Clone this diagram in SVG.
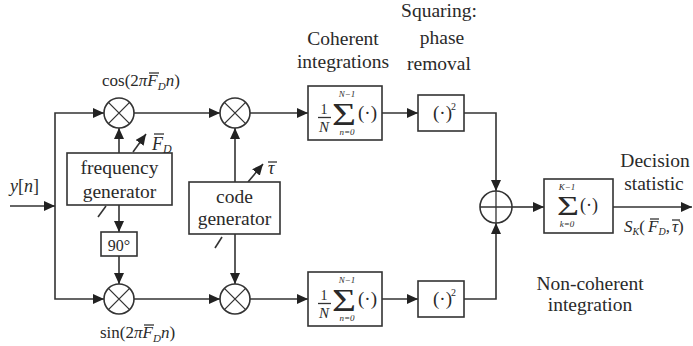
<svg xmlns="http://www.w3.org/2000/svg" width="693" height="346" viewBox="0 0 693 346" font-family="'Liberation Serif', 'DejaVu Serif', serif">
<style>
.t{font-family:"Liberation Serif","DejaVu Serif",serif;fill:#2a2a2a;font-size:19.5px}
.m{font-family:"Liberation Serif","DejaVu Serif",serif;fill:#2a2a2a}
.i{font-style:italic}
.c{text-anchor:middle}
.l{stroke:#333;stroke-width:1.6;fill:none}
.b{stroke:#333;stroke-width:1.6;fill:#fff}
.k{stroke:#333;stroke-width:1.3;fill:none}
</style>
<defs>
<marker id="a" markerUnits="userSpaceOnUse" markerWidth="11" markerHeight="10" refX="11" refY="5" orient="auto">
<path d="M0,0 L11,5 L0,10 z" fill="#222"/>
</marker>
</defs>

<g id="connectors">
<path class="l" d="M10,206 H55" marker-end="url(#a)"/>
<path class="l" d="M55,206 V113 H104" marker-end="url(#a)"/>
<path class="l" d="M55,206 V299 H104" marker-end="url(#a)"/>
<path class="l" d="M134,113 H220" marker-end="url(#a)"/>
<path class="l" d="M134,299 H220" marker-end="url(#a)"/>
<path class="l" d="M119,153 V128" marker-end="url(#a)"/>
<path class="l" d="M119,205 V232" marker-end="url(#a)"/>
<path class="l" d="M119,256 V284" marker-end="url(#a)"/>
<path class="l" d="M235,182 V128" marker-end="url(#a)"/>
<path class="l" d="M235,234 V284" marker-end="url(#a)"/>
<path class="l" d="M250,113 H308" marker-end="url(#a)"/>
<path class="l" d="M250,299 H308" marker-end="url(#a)"/>
<path class="l" d="M382,113 H418" marker-end="url(#a)"/>
<path class="l" d="M382,299 H418" marker-end="url(#a)"/>
<path class="l" d="M464,113 H496 V191" marker-end="url(#a)"/>
<path class="l" d="M464,299 H496 V223" marker-end="url(#a)"/>
<path class="l" d="M512,207 H544" marker-end="url(#a)"/>
<path class="l" d="M613,207 H692" marker-end="url(#a)"/>
<path class="l" d="M133,152 L146,134" marker-end="url(#a)"/>
<path class="l" d="M248,182 L263,164" marker-end="url(#a)"/>
<path class="l" d="M98,217 L106,206"/>
<path class="l" d="M215,248 L222,237"/>
</g>

<g id="input-label">
<text class="m" x="10" y="192" style="font-size:18px"><tspan class="i">y</tspan>[<tspan class="i">n</tspan>]</text>
</g>

<g id="mixer-cos">
<circle class="l" cx="119" cy="113" r="15"/>
<path class="k" d="M108.4,102.4 L129.6,123.6 M129.6,102.4 L108.4,123.6"/>
</g>
<g id="mixer-sin">
<circle class="l" cx="119" cy="299" r="15"/>
<path class="k" d="M108.4,288.4 L129.6,309.6 M129.6,288.4 L108.4,309.6"/>
</g>
<g id="mixer-code-i">
<circle class="l" cx="235" cy="113" r="15"/>
<path class="k" d="M224.4,102.4 L245.6,123.6 M245.6,102.4 L224.4,123.6"/>
</g>
<g id="mixer-code-q">
<circle class="l" cx="235" cy="299" r="15"/>
<path class="k" d="M224.4,288.4 L245.6,309.6 M245.6,288.4 L224.4,309.6"/>
</g>

<g id="cos-label">
<text class="m" x="102" y="86" style="font-size:17px">cos(2<tspan class="i">π</tspan><tspan class="i">F</tspan><tspan class="i" style="font-size:11px" dy="4">D</tspan><tspan class="i" dy="-4">n</tspan>)</text>
<line class="k" x1="149" y1="73" x2="159" y2="73"/>
</g>
<g id="sin-label">
<text class="m" x="100" y="338" style="font-size:17px">sin(2<tspan class="i">π</tspan><tspan class="i">F</tspan><tspan class="i" style="font-size:11px" dy="4">D</tspan><tspan class="i" dy="-4">n</tspan>)</text>
<line class="k" x1="144" y1="325" x2="154" y2="325"/>
</g>

<g id="freq-gen">
<rect class="b" x="67" y="153" width="105" height="52"/>
<text class="t c" x="119.5" y="174">frequency</text>
<text class="t c" x="119.5" y="198">generator</text>
</g>
<g id="fd-label">
<text class="m i" x="152" y="150" style="font-size:18px">F<tspan style="font-size:12px" dy="3">D</tspan></text>
<line class="k" x1="154" y1="134" x2="164" y2="134"/>
</g>

<g id="phase-90">
<rect class="b" x="101" y="232" width="36" height="24"/>
<text class="m c" x="119" y="251" style="font-size:16px">90°</text>
</g>

<g id="code-gen">
<rect class="b" x="189" y="182" width="91" height="52"/>
<text class="t c" x="234.5" y="203">code</text>
<text class="t c" x="234.5" y="225">generator</text>
</g>
<g id="tau-label">
<text class="m i" x="268" y="174" style="font-size:18px">τ</text>
<line class="k" x1="268" y1="162" x2="277" y2="162"/>
</g>

<g id="coherent-label">
<text class="t c" x="343" y="45">Coherent</text>
<text class="t c" x="343" y="68">integrations</text>
</g>

<g id="coh-int-top">
<rect class="b" x="308" y="86" width="74" height="54"/>
<text class="m c" x="324" y="114" style="font-size:14px">1</text>
<line class="k" x1="318" y1="117.5" x2="331" y2="117.5"/>
<text class="m c i" x="324" y="132" style="font-size:15px">N</text>
<text class="m c i" x="347" y="97" style="font-size:9px">N−1</text>
<text class="m c" x="344" y="125" style="font-size:32px" textLength="24" lengthAdjust="spacingAndGlyphs">Σ</text>
<text class="m c i" x="347" y="135" style="font-size:9px">n=0</text>
<text class="m" x="358" y="119" style="font-size:19px">(·)</text>
</g>
<g id="coh-int-bottom">
<rect class="b" x="308" y="272" width="74" height="54"/>
<text class="m c" x="324" y="300" style="font-size:14px">1</text>
<line class="k" x1="318" y1="303.5" x2="331" y2="303.5"/>
<text class="m c i" x="324" y="318" style="font-size:15px">N</text>
<text class="m c i" x="347" y="283" style="font-size:9px">N−1</text>
<text class="m c" x="344" y="311" style="font-size:32px" textLength="24" lengthAdjust="spacingAndGlyphs">Σ</text>
<text class="m c i" x="347" y="321" style="font-size:9px">n=0</text>
<text class="m" x="358" y="305" style="font-size:19px">(·)</text>
</g>

<g id="squaring-label">
<text class="t c" x="439" y="17">Squaring:</text>
<text class="t c" x="442" y="44">phase</text>
<text class="t c" x="439" y="70">removal</text>
</g>

<g id="square-top">
<rect class="b" x="418" y="95" width="46" height="36"/>
<text class="m" x="433" y="119" style="font-size:19px">(·)</text>
<text class="m" x="451" y="110" style="font-size:10px">2</text>
</g>
<g id="square-bottom">
<rect class="b" x="418" y="281" width="46" height="36"/>
<text class="m" x="433" y="305" style="font-size:19px">(·)</text>
<text class="m" x="451" y="296" style="font-size:10px">2</text>
</g>

<g id="summer">
<circle class="l" cx="496" cy="207" r="16"/>
<path class="k" d="M480,207 H512 M496,191 V223"/>
</g>

<g id="noncoh-int">
<rect class="b" x="544" y="179" width="69" height="54"/>
<text class="m c i" x="567" y="190" style="font-size:9px">K−1</text>
<text class="m c" x="568" y="215" style="font-size:28px" textLength="22" lengthAdjust="spacingAndGlyphs">Σ</text>
<text class="m c i" x="567" y="227" style="font-size:9px">k=0</text>
<text class="m" x="580" y="211" style="font-size:18px">(·)</text>
</g>

<g id="noncoh-label">
<text class="t c" x="590" y="290">Non-coherent</text>
<text class="t c" x="590" y="311">integration</text>
</g>

<g id="decision-label">
<text class="t c" x="655" y="167">Decision</text>
<text class="t c" x="654" y="190">statistic</text>
<text class="m i" x="624" y="232" style="font-size:17px">S<tspan style="font-size:10px" dy="3">K</tspan><tspan style="font-style:normal" dy="-3">(</tspan><tspan x="648">F</tspan><tspan style="font-size:10px" dy="3">D</tspan><tspan style="font-style:normal" dy="-3">,</tspan><tspan x="672">τ</tspan><tspan style="font-style:normal">)</tspan></text>
<line class="k" x1="650" y1="219" x2="659" y2="219"/>
<line class="k" x1="672" y1="220" x2="680" y2="220"/>
</g>
</svg>
